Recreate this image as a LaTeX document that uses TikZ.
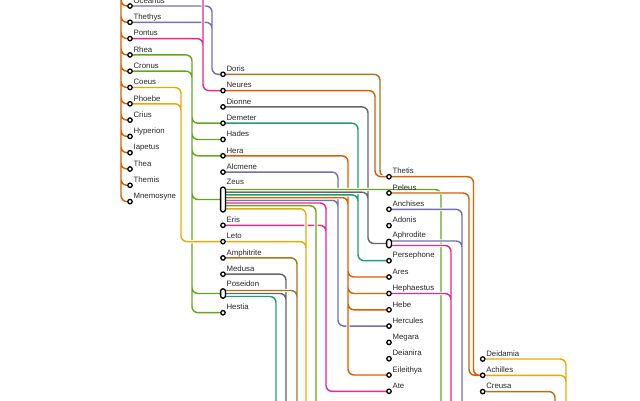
\documentclass[tikz,border=0pt]{standalone}
\usepackage{fontspec}
\setmainfont{Liberation Sans}
\usetikzlibrary{backgrounds}
\definecolor{mtTeal}{HTML}{1B9E77}
\definecolor{mtOrange}{HTML}{D95F02}
\definecolor{mtPurple}{HTML}{7570B3}
\definecolor{mtPink}{HTML}{E7298A}
\definecolor{mtGreen}{HTML}{66A61E}
\definecolor{mtYellow}{HTML}{E6AB02}
\definecolor{mtBrown}{HTML}{A6761D}
\definecolor{mtGray}{HTML}{666666}

\begin{document}
\begin{tikzpicture}[x=1pt, y=-1pt,
      st/.style={circle, draw=black, fill=white, line width=1.3pt,
                 inner sep=0pt, minimum size=4.4pt},
      pill/.style={rounded corners=2.4pt, draw=black, fill=white, line width=1.3pt,
                   inner sep=0pt, minimum width=4.8pt, minimum height=#1},
      lbl/.style={font=\fontsize{7.8}{9}\selectfont, text=black!85,
                  anchor=base west, inner sep=0pt},
      ln/.style={draw=#1, line width=1.45pt, rounded corners=6pt,
                 preaction={draw=white, line width=3.3pt}}]
    \useasboundingbox (0,0) rectangle (640,400);

    % stations
    \foreach \n/\t [count=\i from 0] in {oceanus/Oceanus, thethys/Thethys, pontus/Pontus,
        rhea/Rhea, cronus/Cronus, coeus/Coeus, phoebe/Phoebe, crius/Crius,
        hyperion/Hyperion, iapetus/Iapetus, thea/Thea, themis/Themis, mnemosyne/Mnemosyne}
      {\node[st] (\n) at (130,6+16.3*\i) {};
       \node[lbl] (\n-t) at ([xshift=3.4pt,yshift=2.8pt]\n.center) {\t};}
    \foreach \n/\t/\y in {doris/Doris/74.3, neures/Neures/90.6, dionne/Dionne/106.9,
        demeter/Demeter/123.2, hades/Hades/139.5, hera/Hera/155.8, alcmene/Alcmene/172.1,
        eris/Eris/225.3, leto/Leto/241.6, amphitrite/Amphitrite/257.9,
        medusa/Medusa/274.2, hestia/Hestia/312.7}
      {\node[st] (\n) at (223,\y) {};
       \node[lbl] (\n-t) at ([xshift=3.4pt,yshift=2.8pt]\n.center) {\t};}
    \foreach \n/\t/\y in {thetis/Thetis/176.7, peleus/Peleus/193, anchises/Anchises/209.3,
        adonis/Adonis/225.6, persephone/Persephone/260.7, ares/Ares/277,
        hephaestus/Hephaestus/293.5, hebe/Hebe/309.8, hercules/Hercules/326.1,
        megara/Megara/342.4, deianira/Deianira/358.7, eileithya/Eileithya/375, ate/Ate/391.3}
      {\node[st] (\n) at (389,\y) {};
       \node[lbl] (\n-t) at ([xshift=3.4pt,yshift=2.8pt]\n.center) {\t};}
    \foreach \n/\t/\y in {deidamia/Deidamia/359, achilles/Achilles/375.3, creusa/Creusa/391.6}
      {\node[st] (\n) at (482.7,\y) {};
       \node[lbl] (\n-t) at ([xshift=3.4pt,yshift=2.8pt]\n.center) {\t};}
    \node[pill=25pt]  (zeus)      at (223,199.5) {};
    \node[pill=9.5pt] (poseidon)  at (223,293.5) {};
    \node[pill=8.5pt] (aphrodite) at (389,243.5) {};
    \node[lbl] (zeus-t)      at ([xshift=3.4pt,yshift=1.6pt]zeus.north) {Zeus};
    \node[lbl] (poseidon-t)  at ([xshift=3.4pt,yshift=1.6pt]poseidon.north) {Poseidon};
    \node[lbl] (aphrodite-t) at ([xshift=3.4pt,yshift=1.6pt]aphrodite.north) {Aphrodite};

    % tracks and loose ends
    \coordinate (trunk) at (121,-12);
    \coordinate (gaia)  at (203,-12);
    \coordinate (trk-oc) at (212,0);
    \coordinate (trk-po) at (203,0);
    \coordinate (trk-rh) at (192,0);
    \coordinate (trk-co) at (181,0);
    \coordinate (trk-do) at (380,0);
    \coordinate (trk-ne) at (375,0);
    \coordinate (trk-di) at (368,0);
    \coordinate (trk-de) at (358,0);
    \coordinate (trk-he) at (348,0);
    \coordinate (trk-al) at (338,0);
    \coordinate (trk-er) at (326,0);
    \coordinate (trk-th) at (473.5,0);
    \coordinate (trk-pe) at (469,0);
    \coordinate (out-zg) at (441,412);
    \coordinate (out-z2) at (316,412);
    \coordinate (out-le) at (306,412);
    \coordinate (out-am) at (297,412);
    \coordinate (out-me) at (286,412);
    \coordinate (out-po) at (276,412);
    \coordinate (out-an) at (462,412);
    \coordinate (out-ap) at (451,412);
    \coordinate (out-ac) at (566,412);
    \coordinate (out-cr) at (555,412);

    \begin{scope}[on background layer]
      % titans
      \draw[ln=mtOrange] foreach \k in {oceanus, thethys, pontus, rhea, cronus, coeus,
          phoebe, crius, hyperion, iapetus, thea, themis, mnemosyne} {(trunk) |- (\k)};
      \draw[ln=mtPurple] (oceanus) -| (trk-oc |- doris) -- (doris)
                         (thethys) -| (trk-oc |- doris) -- (doris);
      \draw[ln=mtPink] (gaia) |- (neures) (pontus) -| (trk-po |- neures) -- (neures);
      \draw[ln=mtGreen] foreach \k in {demeter, hades, hera, zeus, poseidon, hestia}
          {(rhea) -| (trk-rh |- \k) -- (\k)}
          (cronus) -| (trk-rh |- hestia) -- (hestia);
      \draw[ln=mtYellow] (coeus) -| (trk-co |- leto) -- (leto)
                         (phoebe) -| (trk-co |- leto) -- (leto);

      % second generation
      \draw[ln=mtBrown] (doris) -| (trk-do |- thetis) -- (thetis);
      \draw[ln=mtOrange] (neures) -| (trk-ne |- thetis) -- (thetis);
      \draw[ln=mtPink] (eris) -| (trk-er |- ate) -- (ate)
          ([yshift=-3.5pt]zeus.center) -| (trk-er |- ate) -- (ate);
      \draw[ln=mtPurple] (alcmene) -| (trk-al |- hercules) -- (hercules)
          ([yshift=-0.8pt]zeus.center) -| (trk-al |- hercules) -- (hercules);
      \draw[ln=mtOrange] foreach \k in {ares, hephaestus, hebe, eileithya}
          {(hera) -| (trk-he |- \k) -- (\k)}
          ([yshift=1.9pt]zeus.center) -| (trk-he |- ares) -- (ares);
      \draw[ln=mtTeal] (demeter) -| (trk-de |- persephone) -- (persephone)
          ([yshift=4.6pt]zeus.center) -| (trk-de |- persephone) -- (persephone);
      \draw[ln=mtGray] (dionne) -| (trk-di |- aphrodite) -- (aphrodite)
          ([yshift=7.3pt]zeus.center) -| (trk-di |- aphrodite) -- (aphrodite);
      \draw[ln=mtYellow] ([yshift=-9.3pt]zeus.center) -| (out-le) (leto) -| (out-le);
      \draw[ln=mtGreen] ([yshift=-6.2pt]zeus.center) -| (out-z2);
      \draw[ln=mtGreen] ([yshift=10pt]zeus.center) -| (out-zg);
      \draw[ln=mtGray] (medusa) -| (out-me) (poseidon) -| (out-me);
      \draw[ln=mtBrown] (amphitrite) -| (out-am) ([yshift=3pt]poseidon.center) -| (out-am);
      \draw[ln=mtTeal] ([yshift=-3pt]poseidon.center) -| (out-po);

      % third generation
      \draw[ln=mtOrange] (peleus) -| (trk-pe |- achilles) -- (achilles)
                         (thetis) -| (trk-th |- achilles) -- (achilles);
      \draw[ln=mtPurple] (anchises) -| (out-an) ([yshift=2.5pt]aphrodite.center) -| (out-an);
      \draw[ln=mtPink] ([yshift=-2pt]aphrodite.center) -| (out-ap) (hephaestus) -| (out-ap);
      \draw[ln=mtYellow] (deidamia) -| (out-ac) (achilles) -| (out-ac);
      \draw[ln=mtBrown] (creusa) -| (out-cr);
    \end{scope}
  \end{tikzpicture}
\end{document}
